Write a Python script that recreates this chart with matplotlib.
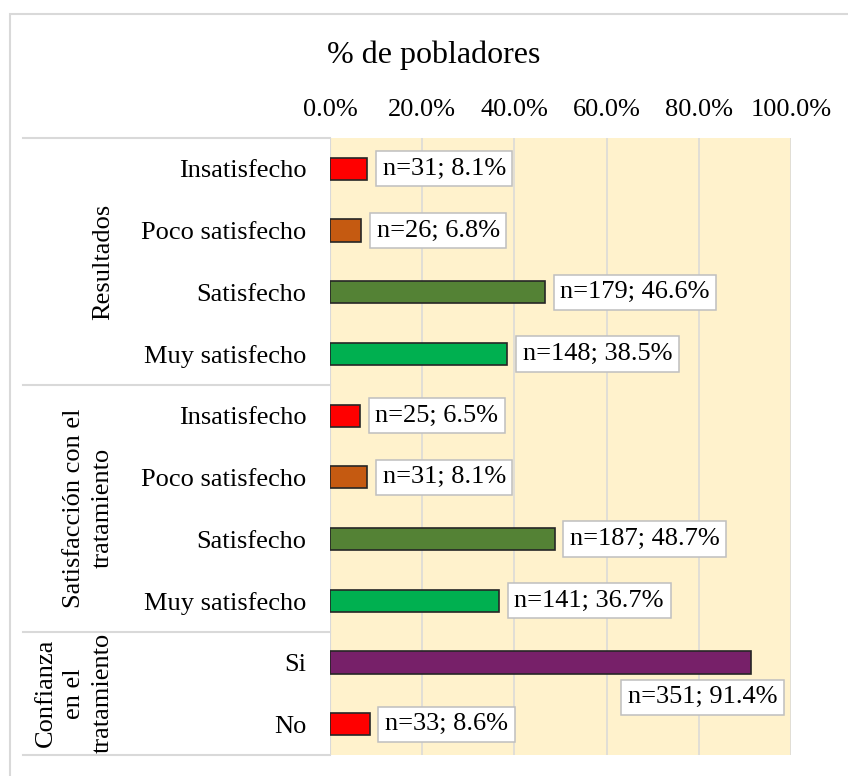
import matplotlib
matplotlib.use("Agg")
import matplotlib.pyplot as plt
from matplotlib.patches import Rectangle
from matplotlib.ticker import PercentFormatter

plt.rcParams["font.family"] = ["Liberation Serif", "DejaVu Serif"]

# data
groups = ["Resultados", "Satisfacción con el\ntratamiento", "Confianza\nen el\ntratamiento"]
group_sizes = [4, 4, 2]
categories = ["Insatisfecho", "Poco satisfecho", "Satisfecho", "Muy satisfecho",
              "Insatisfecho", "Poco satisfecho", "Satisfecho", "Muy satisfecho",
              "Si", "No"]
counts = [31, 26, 179, 148, 25, 31, 187, 141, 351, 33]
pcts = [8.1, 6.8, 46.6, 38.5, 6.5, 8.1, 48.7, 36.7, 91.4, 8.6]
bar_colors = ["#FF0000", "#C55A11", "#548235", "#00B050",
              "#FF0000", "#C55A11", "#548235", "#00B050",
              "#772069", "#FF0000"]

grid_col = "#D9D9D9"
fs = 19

fig = plt.figure(figsize=(8.48, 7.76), dpi=100)
W, H = 848, 776
ax = fig.add_axes([330 / W, 1 - 755 / H, 461 / W, 617 / H])
ax.set_facecolor("#FFF2CC")

rows = list(range(len(categories)))
ax.barh(rows, pcts, height=0.36, color=bar_colors, edgecolor="#262626", linewidth=1.2, zorder=3)

ax.set_xlim(0, 100)
ax.set_ylim(len(categories) - 0.5, -0.5)
ax.set_xticks([0, 20, 40, 60, 80, 100])
ax.xaxis.set_major_formatter(PercentFormatter(decimals=1))
ax.xaxis.tick_top()
ax.tick_params(axis="x", length=0, pad=12, labelsize=fs)
ax.set_yticks(rows)
ax.set_yticklabels(categories)
ax.tick_params(axis="y", length=0, pad=17, labelsize=fs)
ax.grid(axis="x", color=grid_col, linewidth=1.1, zorder=0)
ax.set_axisbelow(True)
for s in ax.spines.values():
    s.set_visible(False)
ax.axvline(0, color=grid_col, linewidth=1.5, zorder=1)

# data labels
box = dict(boxstyle="square,pad=0.25", fc="white", ec="#BFBFBF", lw=1.1)
for i, (n, p) in enumerate(zip(counts, pcts)):
    txt = f"n={n}; {p:.1f}%"
    if categories[i] == "Si":
        # this one sits below its bar in the original
        ax.annotate(txt, xy=(p, i), xytext=(-35, -25), textcoords="offset points",
                    ha="center", va="center", fontsize=fs, bbox=box, zorder=5)
    else:
        ax.annotate(txt, xy=(p, i), xytext=(11, 0), textcoords="offset points",
                    ha="left", va="center", fontsize=fs, bbox=box, zorder=5)

# group separators and labels on the left
trans = ax.get_yaxis_transform()
x_left = (23 - 330) / 461
start = -0.5
ax.plot([x_left, 0], [start, start], color=grid_col, lw=1.5, transform=trans, clip_on=False)
for g, size in zip(groups, group_sizes):
    end = start + size
    ax.plot([x_left, 0], [end, end], color=grid_col, lw=1.5, transform=trans, clip_on=False)
    ax.text((114 - 330) / 461, (start + end) / 2, g, rotation=90, ha="right", va="center",
            multialignment="center", fontsize=fs, transform=trans, linespacing=1.4)
    start = end

fig.text(434 / W, 1 - 55 / H, "% de pobladores", ha="center", va="center", fontsize=23)

# chart area border
fig.patches.append(Rectangle((10 / W, -0.1), 1.2, 1 - 14 / H + 0.1, transform=fig.transFigure,
                             fill=False, ec=grid_col, lw=1.5))

plt.savefig("out.png", dpi=100)
plt.close()
